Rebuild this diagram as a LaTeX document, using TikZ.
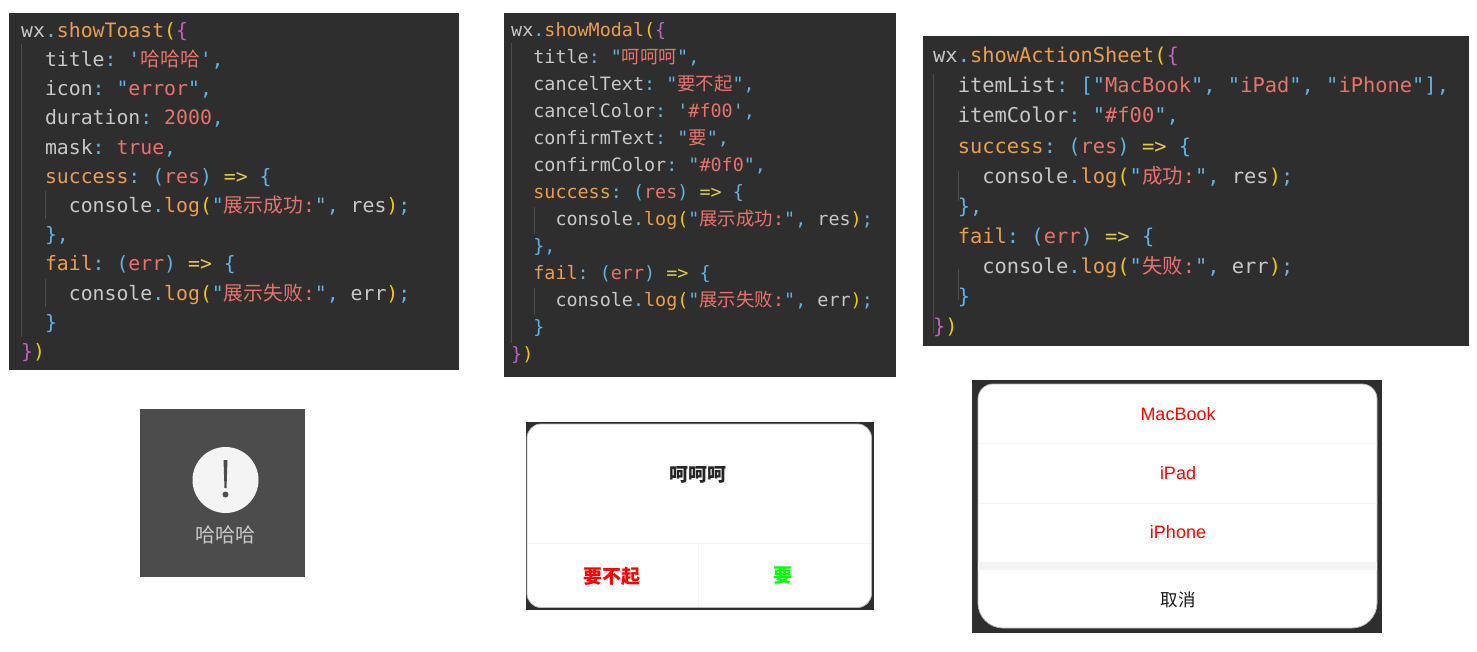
\documentclass[tikz,border=0pt]{standalone}
\usepackage{xcolor}
\usepackage{fontspec}
\setmainfont{Liberation Sans}
\setmonofont{DejaVu Sans Mono}
\newfontfamily\cjkfont{Noto Sans CJK SC}
\usetikzlibrary{positioning,calc}

\definecolor{panelbg}{HTML}{2E2E2E}
\definecolor{codetext}{HTML}{C8C8C8}
\definecolor{codefunc}{HTML}{EB9D50}
\definecolor{codestring}{HTML}{E8736A}
\definecolor{codeblue}{HTML}{5FB3E6}
\definecolor{codeyellow}{HTML}{F2C80F}
\definecolor{codearrow}{HTML}{E3C84E}
\definecolor{codepurple}{HTML}{C261BE}
\definecolor{guideline}{HTML}{4D4D4D}
\definecolor{toastbg}{HTML}{4C4C4C}
\definecolor{hairline}{HTML}{F4F4F4}

\newcommand{\cjk}[1]{{\cjkfont #1}}
\newcommand{\cind}{\phantom{xx}}
\newcommand{\cblue}[1]{\textcolor{codeblue}{#1}}
\newcommand{\cfunc}[1]{\textcolor{codefunc}{#1}}
\newcommand{\cstr}[1]{\textcolor{codestring}{#1}}
\newcommand{\copen}{\textcolor{codeyellow}{(}\textcolor{codepurple}{\{}}
\newcommand{\cclose}{\textcolor{codepurple}{\}}\textcolor{codeyellow}{)}}
\newcommand{\cthen}{\cblue{)} \textcolor{codearrow}{=>} \cblue{\{}}
\newcommand{\cstart}[1]{wx\cblue{.}\cfunc{#1}\copen}
\newcommand{\clog}[2]{\cind\cind console\cblue{.}\cfunc{log}\textcolor{codeyellow}{(}\cblue{"}\cstr{\cjk{#1}:}\cblue{"}\cblue{,} #2\textcolor{codeyellow}{)}\cblue{;}}

\begin{document}
\begin{tikzpicture}[
    x=1pt, y=-1pt,
    panel/.style={fill=panelbg, draw=none},
    codeblock/.style={anchor=north west, inner sep=0pt, align=left, text=codetext},
    guide/.style={draw=guideline, line width=0.8pt},
    hair/.style={draw=hairline, line width=1pt},
    sheettext/.style={font=\fontsize{18}{22}\selectfont, text=red, inner sep=0pt},
    modaltext/.style={font=\cjkfont\bfseries\fontsize{19}{23}\selectfont, inner sep=0pt}
]
    \useasboundingbox (0,0) rectangle (1477,651);
    \fill[white] (0,0) rectangle (1477,651);

    \fill[panel] (9,13) rectangle (459,370);
    \fill[panel] (504,13) rectangle (896,377);
    \fill[panel] (923,36) rectangle (1469,346);

    \node[codeblock, font=\ttfamily\fontsize{19.8}{29.2}\selectfont] (toastcode) at (21,22) {%
        \cstart{showToast}\\
        \cind title\cblue{:} \cblue{'}\cstr{\cjk{哈哈哈}}\cblue{'}\cblue{,}\\
        \cind icon\cblue{:} \cblue{"}\cstr{error}\cblue{"}\cblue{,}\\
        \cind duration\cblue{:} \cstr{2000}\cblue{,}\\
        \cind mask\cblue{:} \cstr{true}\cblue{,}\\
        \cind\cfunc{success}\cblue{:} \cblue{(}\cstr{res}\cthen\\
        \clog{展示成功}{res}\\
        \cind\cblue{\}}\cblue{,}\\
        \cind\cfunc{fail}\cblue{:} \cblue{(}\cstr{err}\cthen\\
        \clog{展示失败}{err}\\
        \cind\cblue{\}}\\
        \cclose};

    \node[codeblock, font=\ttfamily\fontsize{18.4}{27}\selectfont] (modalcode) at (511,22) {%
        \cstart{showModal}\\
        \cind title\cblue{:} \cblue{"}\cstr{\cjk{呵呵呵}}\cblue{"}\cblue{,}\\
        \cind cancelText\cblue{:} \cblue{"}\cstr{\cjk{要不起}}\cblue{"}\cblue{,}\\
        \cind cancelColor\cblue{:} \cblue{'}\cstr{\#f00}\cblue{'}\cblue{,}\\
        \cind confirmText\cblue{:} \cblue{"}\cstr{\cjk{要}}\cblue{"}\cblue{,}\\
        \cind confirmColor\cblue{:} \cblue{"}\cstr{\#0f0}\cblue{"}\cblue{,}\\
        \cind\cfunc{success}\cblue{:} \cblue{(}\cstr{res}\cthen\\
        \clog{展示成功}{res}\\
        \cind\cblue{\}}\cblue{,}\\
        \cind\cfunc{fail}\cblue{:} \cblue{(}\cstr{err}\cthen\\
        \clog{展示失败}{err}\\
        \cind\cblue{\}}\\
        \cclose};

    \node[codeblock, font=\ttfamily\fontsize{20.4}{30.1}\selectfont] (sheetcode) at (933,47) {%
        \cstart{showActionSheet}\\
        \cind itemList\cblue{:} \cblue{[}\cblue{"}\cstr{MacBook}\cblue{"}\cblue{,} \cblue{"}\cstr{iPad}\cblue{"}\cblue{,} \cblue{"}\cstr{iPhone}\cblue{"}\cblue{]}\cblue{,}\\
        \cind itemColor\cblue{:} \cblue{"}\cstr{\#f00}\cblue{"}\cblue{,}\\
        \cind\cfunc{success}\cblue{:} \cblue{(}\cstr{res}\cthen\\
        \clog{成功}{res}\\
        \cind\cblue{\}}\cblue{,}\\
        \cind\cfunc{fail}\cblue{:} \cblue{(}\cstr{err}\cthen\\
        \clog{失败}{err}\\
        \cind\cblue{\}}\\
        \cclose};

    \draw[guide] (21,44) -- (21,337);
    \draw[guide] (45,191) -- (45,219);
    \draw[guide] (45,279) -- (45,307);
    \draw[guide] (511,43) -- (511,343);
    \draw[guide] (534,207) -- (534,234);
    \draw[guide] (534,288) -- (534,315);
    \draw[guide] (933,74) -- (933,333);
    \draw[guide] (958,171) -- (958,201);
    \draw[guide] (958,269) -- (958,300);

    \fill[toastbg] (140,409) rectangle (305,577);
    \node[circle, fill=hairline, minimum size=66pt, inner sep=0pt] (erroricon) at (225.5,480) {};
    \fill[toastbg] (223.5,460) -- (227.5,460) -- (226.5,488) -- (224.5,488) -- cycle;
    \fill[toastbg] (225.5,494.5) circle (3);
    \node[font=\cjkfont\fontsize{20}{24}\selectfont, text=codetext, inner sep=0pt] (toasttitle) at (225,535) {哈哈哈};

    \fill[panelbg] (526,422) rectangle (873.5,609.5);
    \draw[draw=gray!55, fill=white, line width=0.8pt, rounded corners=14pt] (527,424) rectangle (871.5,607.5);
    \draw[hair] (527.5,543) -- (871,543);
    \draw[hair] (698.5,543) -- (698.5,607);
    \node[modaltext, text=black!85] (modaltitle) at (698,475) {呵呵呵};
    \node[modaltext, text=red] (modalcancel) at (612,576) {要不起};
    \node[modaltext, text=green] (modalconfirm) at (783,576) {要};

    \fill[panelbg] (972,380) rectangle (1382,633);
    \draw[draw=gray!55, fill=white, line width=0.8pt] (978,505) [rounded corners=15pt] -- (978,384) -- (1377,384) -- (1377,505) [rounded corners=25pt] -- (1377,628) -- (978,628) -- cycle;
    \draw[hair] (978.5,443.5) -- (1376.5,443.5);
    \draw[hair] (978.5,503.5) -- (1376.5,503.5);
    \fill[hairline] (978.4,562) rectangle (1376.6,570);
    \node[sheettext] (itemmacbook) at (1178,414) {MacBook};
    \node[sheettext] (itemipad) at (1178,473) {iPad};
    \node[sheettext] (itemiphone) at (1178,532) {iPhone};
    \node[font=\cjkfont\fontsize{17.5}{21}\selectfont, text=black!90, inner sep=0pt] (itemcancel) at (1178,600) {取消};
\end{tikzpicture}
\end{document}
